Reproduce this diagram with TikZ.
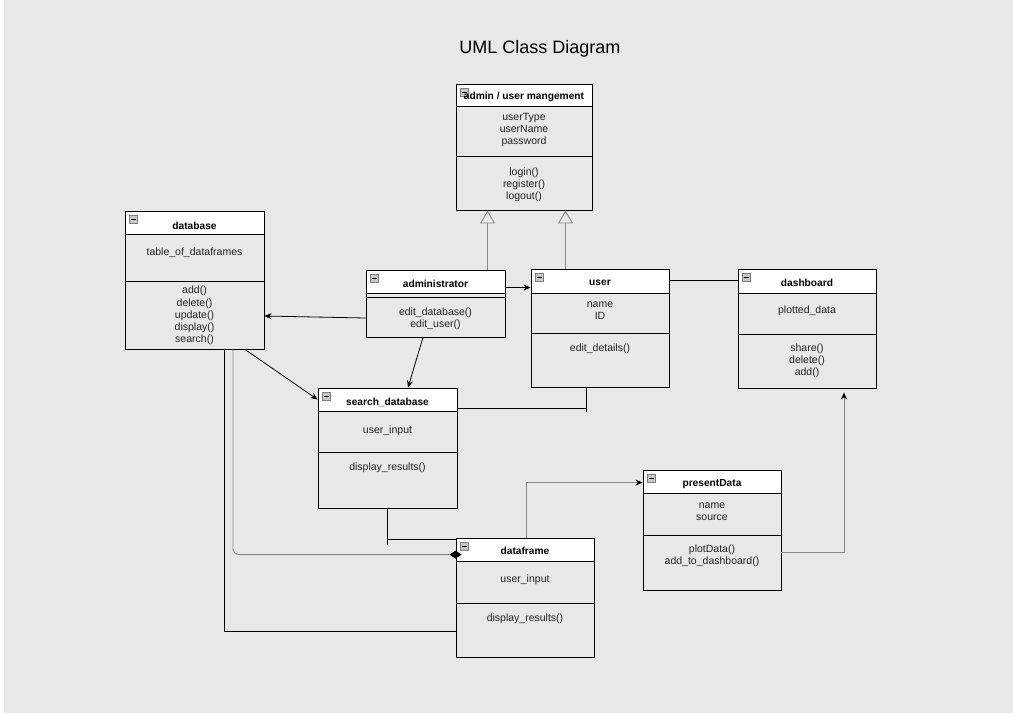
\documentclass[tikz,border=0pt]{standalone}
\usepackage{fontspec}
\setmainfont{Liberation Sans}
\usetikzlibrary{fit,arrows.meta,calc}
\definecolor{bggrey}{HTML}{E8E8E8}
\definecolor{lnkgrey}{HTML}{8A8A8A}
\definecolor{txtc}{HTML}{222222}
\tikzset{
  classbox/.style={draw=black, line width=0.9pt, fill=bggrey, inner sep=0pt, rectangle},
  hdr/.style={draw=black, line width=0.9pt, fill=white},
  divline/.style={draw=black, line width=0.9pt},
  iconbox/.style={draw=gray, line width=0.4pt, fill=gray!45},
  ttl/.style={font=\bfseries\fontsize{10.2}{12}\selectfont, text=black, inner sep=0pt, yshift=-1pt},
  body/.style={font=\fontsize{10.5}{12.2}\selectfont, text=txtc, align=center, inner sep=0pt, yshift=-1pt},
  assoc/.style={draw=black, line width=0.8pt, -{Stealth[length=7pt,width=6pt]}},
  plain/.style={draw=black, line width=0.8pt},
  genline/.style={draw=lnkgrey, line width=0.9pt, -{Triangle[open, length=13pt, width=15pt, fill=bggrey]}},
  greyarrow/.style={draw=lnkgrey, line width=0.9pt, -{Stealth[length=7pt,width=6pt, fill=black, color=black]}},
  comp/.style={draw=lnkgrey, line width=0.9pt, -{Diamond[length=12pt,width=8pt, fill=black, color=black]}},
}
\newcommand{\umlclass}[6]{%
  \node[classbox, fit={(#2,#3) (#4,#5)}] (#1) {};
  \draw[hdr] (#2,#3) rectangle (#4,#6);
  \draw[iconbox] (#2+4,#3+4) rectangle (#2+12,#3+12);
  \draw[black, line width=0.6pt] (#2+5.5,#3+8) -- (#2+10.5,#3+8);
}
\begin{document}
\begin{tikzpicture}[x=1pt,y=-1pt]
\fill[white] (0,0) rectangle (1013,713);
\fill[bggrey] (4,0) rectangle (1013,713);
\useasboundingbox (0,0) rectangle (1013,713);

\node[font=\fontsize{18}{20}\selectfont, inner sep=0pt] (title) at (540,49) {UML Class Diagram};

% admin / user mangement
\umlclass{adminbox}{456}{84}{592}{210}{106}
\node[ttl] (t1) at (524,96) {admin / user mangement};
\draw[divline] (456,156) -- (592,156);
\node[body] (a1) at (524,129) {userType\\userName\\password};
\node[body] (m1) at (524,184) {login()\\register()\\logout()};

% database
\umlclass{database}{125}{211}{264}{349}{234}
\node[ttl] (t2) at (194.5,225) {database};
\draw[divline] (125,281) -- (264,281);
\node[body] (a2) at (194.5,252) {table\_of\_dataframes};
\node[body] (m2) at (194.5,314.5) {add()\\delete()\\update()\\display()\\search()};

% administrator
\umlclass{administrator}{366}{270}{505}{337}{293}
\node[ttl] (t3) at (435.5,283) {administrator};
\draw[divline] (366,297) -- (505,297);
\node[body] (m3) at (435.5,318) {edit\_database()\\edit\_user()};

% user
\umlclass{user}{531}{269}{669}{387}{293}
\node[ttl] (t4) at (600,282) {user};
\draw[divline] (531,333) -- (669,333);
\node[body] (a4) at (600,310) {name\\ID};
\node[body] (m4) at (600,348) {edit\_details()};

% dashboard
\umlclass{dashboard}{738}{269}{876}{388}{293}
\node[ttl] (t5) at (807,282) {dashboard};
\draw[divline] (738,334) -- (876,334);
\node[body] (a5) at (807,310) {plotted\_data};
\node[body] (m5) at (807,360) {share()\\delete()\\add()};

% search_database
\umlclass{search}{318}{388}{457}{508}{411}
\node[ttl] (t6) at (387.5,401) {search\_database};
\draw[divline] (318,452) -- (457,452);
\node[body] (a6) at (387.5,430) {user\_input};
\node[body] (m6) at (387.5,467) {display\_results()};

% dataframe
\umlclass{dataframe}{456}{538}{594}{657}{561}
\node[ttl] (t7) at (525,550) {dataframe};
\draw[divline] (456,603) -- (594,603);
\node[body] (a7) at (525,579) {user\_input};
\node[body] (m7) at (525,618) {display\_results()};

% presentData
\umlclass{present}{643}{470}{781}{590}{493}
\node[ttl] (t8) at (712,483) {presentData};
\draw[divline] (643,535) -- (781,535);
\node[body] (a8) at (712,511) {name\\source};
\node[body] (m8) at (712,554.5) {plotData()\\add\_to\_dashboard()};

% ---------- connectors ----------
% generalisations
\coordinate (g1) at ([xshift=122pt]administrator.north west);
\draw[genline] (g1) -- (g1 |- adminbox.south);
\coordinate (g2) at ([xshift=35pt]user.north west);
\draw[genline] (g2) -- (g2 |- adminbox.south);

% administrator -> user
\coordinate (c1) at ([yshift=-18pt]administrator.north east);
\draw[assoc] (c1) -- (c1 -| user.west);

% user -- dashboard
\coordinate (c2) at ([yshift=-12pt]user.north east);
\draw[plain] (c2) -- (c2 -| dashboard.west);

% administrator -> database
\draw[assoc] ([yshift=-14.5pt]administrator.west) -- ([yshift=-36pt]database.east);

% administrator -> search_database
\draw[assoc] ([xshift=-12.5pt]administrator.south) -- ([xshift=20.5pt]search.north);

% database -> search_database
\draw[assoc] ([xshift=50.5pt]database.south) -- ([yshift=-12pt]search.north west);

% search_database -- user
\coordinate (c3) at ([yshift=-21pt]search.north east);
\coordinate (c4) at ([xshift=-14pt]user.south);
\draw[plain] (c3) -- (c3 -| c4) -- (c4);
\draw[plain] (c3 -| c4) -- ++(0,3);

% search_database -- dataframe
\coordinate (c5) at ([yshift=-2pt]dataframe.north west);
\draw[plain] (search.south) -- (search.south |- c5) -- (c5);
\draw[plain] (search.south |- c5) -- ++(0,5);

% database <>-- dataframe (composition)
\coordinate (c6) at ([xshift=38.5pt]database.south);
\coordinate (c7) at ([yshift=-17pt,xshift=6pt]dataframe.north west);
\draw[comp, rounded corners=6pt] (c6) -- (c6 |- c7) -- (c7);

% database -- dataframe
\coordinate (c8) at ([xshift=29.5pt]database.south);
\coordinate (c9) at ([yshift=-94pt]dataframe.north west);
\draw[plain] (c8) -- (c8 |- c9) -- (c9);

% dataframe -> presentData
\coordinate (c10) at ([xshift=1pt]dataframe.north);
\coordinate (c11) at ([yshift=-13pt]present.north west);
\draw[greyarrow] (c10) -- (c10 |- c11) -- (c11);

% presentData -> dashboard
\coordinate (c12) at ([yshift=-83pt]present.north east);
\coordinate (c13) at ([xshift=37pt]dashboard.south);
\draw[greyarrow, shorten >=4pt] (c12) -- (c12 -| c13) -- (c13);
\end{tikzpicture}
\end{document}
